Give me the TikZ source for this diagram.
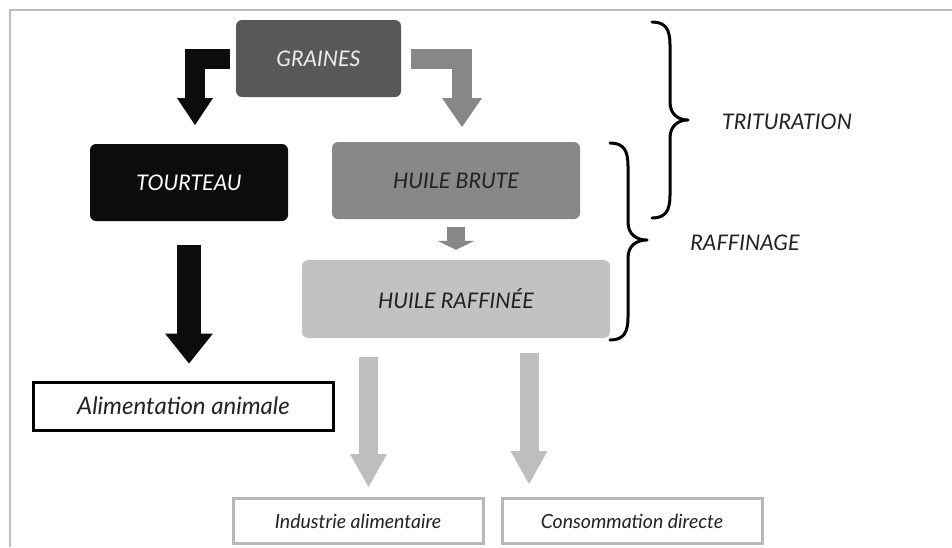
\documentclass[tikz,border=0pt]{standalone}
\usepackage{fontspec}
\setmainfont{Lato}
\usetikzlibrary{arrows.meta}
\definecolor{cGraines}{HTML}{585858}
\definecolor{cTour}{HTML}{0C0C0C}
\definecolor{cBrute}{HTML}{888888}
\definecolor{cRaff}{HTML}{C2C2C2}
\definecolor{cMidArrow}{HTML}{878787}
\definecolor{cLightArrow}{HTML}{BEBEBE}
\definecolor{cGrayBox}{HTML}{B8B8B8}
\definecolor{cFrame}{HTML}{BDBDBD}
\definecolor{cText}{HTML}{222222}
\begin{document}
\begin{tikzpicture}[x=1pt,y=-1pt,
  lab/.style={font=\itshape\fontsize{21.5}{25}\selectfont},
  box/.style={lab, rounded corners=6pt, inner sep=0pt, text=cText},
  outbox/.style={font=\itshape\fontsize{19.5}{23}\selectfont, inner sep=0pt, line width=3pt, fill=white, text=cText},
  blockarrow/.style={line width=#1, line cap=butt},
  bracepath/.style={line width=3pt, line cap=round, line join=round},
  side/.style={lab, text=cText}
]
\useasboundingbox (0,0) rectangle (952,547);
\fill[white] (0,0) rectangle (952,547);
\draw[cFrame, line width=2pt] (10,547) -- (10,10) -- (952,10);

% boxes
\node[box, fill=cGraines, text=white!93!black, minimum width=165pt, minimum height=77pt] (graines) at (318.5,58.5) {GRAINES};
\node[box, fill=cTour, text=white, minimum width=198pt, minimum height=77pt] (tourteau) at (189,182.5) {TOURTEAU};
\node[box, fill=cBrute, minimum width=248pt, minimum height=77pt] (brute) at (456,180.5) {HUILE BRUTE};
\node[box, fill=cRaff, minimum width=308pt, minimum height=78pt] (raff) at (456,299) {HUILE RAFFINÉE};
\node[outbox, draw=black, font=\itshape\fontsize{24}{28}\selectfont, minimum width=300pt, minimum height=48pt] (alim) at (183.5,406) {Alimentation animale};
\node[outbox, draw=cGrayBox, minimum width=250pt, minimum height=45pt] (indus) at (358,521) {Industrie alimentaire};
\node[outbox, draw=cGrayBox, minimum width=260pt, minimum height=45pt] (conso) at (632,521) {Consommation directe};

% arrows
\coordinate (tipL) at (195,125);
\coordinate (tipR) at (462,127);
\draw[blockarrow=20pt, cTour, -{Triangle[width=36pt,length=27pt,line width=0pt]}]
  ([xshift=-6pt]graines.west) -| (tipL);
\draw[blockarrow=20pt, cMidArrow, -{Triangle[width=40pt,length=29pt,line width=0pt]}]
  ([xshift=10pt]graines.east) -| (tipR);
\draw[blockarrow=24pt, cTour, -{Triangle[width=48pt,length=30pt,line width=0pt]}]
  ([yshift=-24pt]tourteau.south) -- ([yshift=17pt]tourteau.south |- alim.north);
\draw[blockarrow=18pt, cMidArrow, -{Triangle[width=37pt,length=9pt,line width=0pt]}]
  ([yshift=-8pt]brute.south) -- ([yshift=10pt]raff.north);
\coordinate (a1s) at (368.5,357);
\coordinate (a2s) at (529,353);
\draw[blockarrow=19pt, cLightArrow, -{Triangle[width=37pt,length=33pt,line width=0pt]}]
  (a1s) -- ([yshift=10pt]a1s |- indus.north);
\draw[blockarrow=19pt, cLightArrow, -{Triangle[width=37pt,length=33pt,line width=0pt]}]
  (a2s) -- ([yshift=13pt]a2s |- conso.north);

% braces
\draw[bracepath] (652,22) .. controls (666,22) and (670,30) .. (670,45) -- (670,102)
  .. controls (670,114) and (678,120) .. (688,120)
  .. controls (678,120) and (670,126) .. (670,138) -- (670,195)
  .. controls (670,210) and (666,218) .. (652,218);
\draw[bracepath] (610,143) .. controls (624,143) and (628,151) .. (628,166) -- (628,222)
  .. controls (628,234) and (636,240) .. (647,240)
  .. controls (636,240) and (628,246) .. (628,258) -- (628,317)
  .. controls (628,332) and (624,340) .. (610,340);
\node[side] (trit) at (787,122) {TRITURATION};
\node[side] (raffin) at (745,243) {RAFFINAGE};
\end{tikzpicture}
\end{document}
